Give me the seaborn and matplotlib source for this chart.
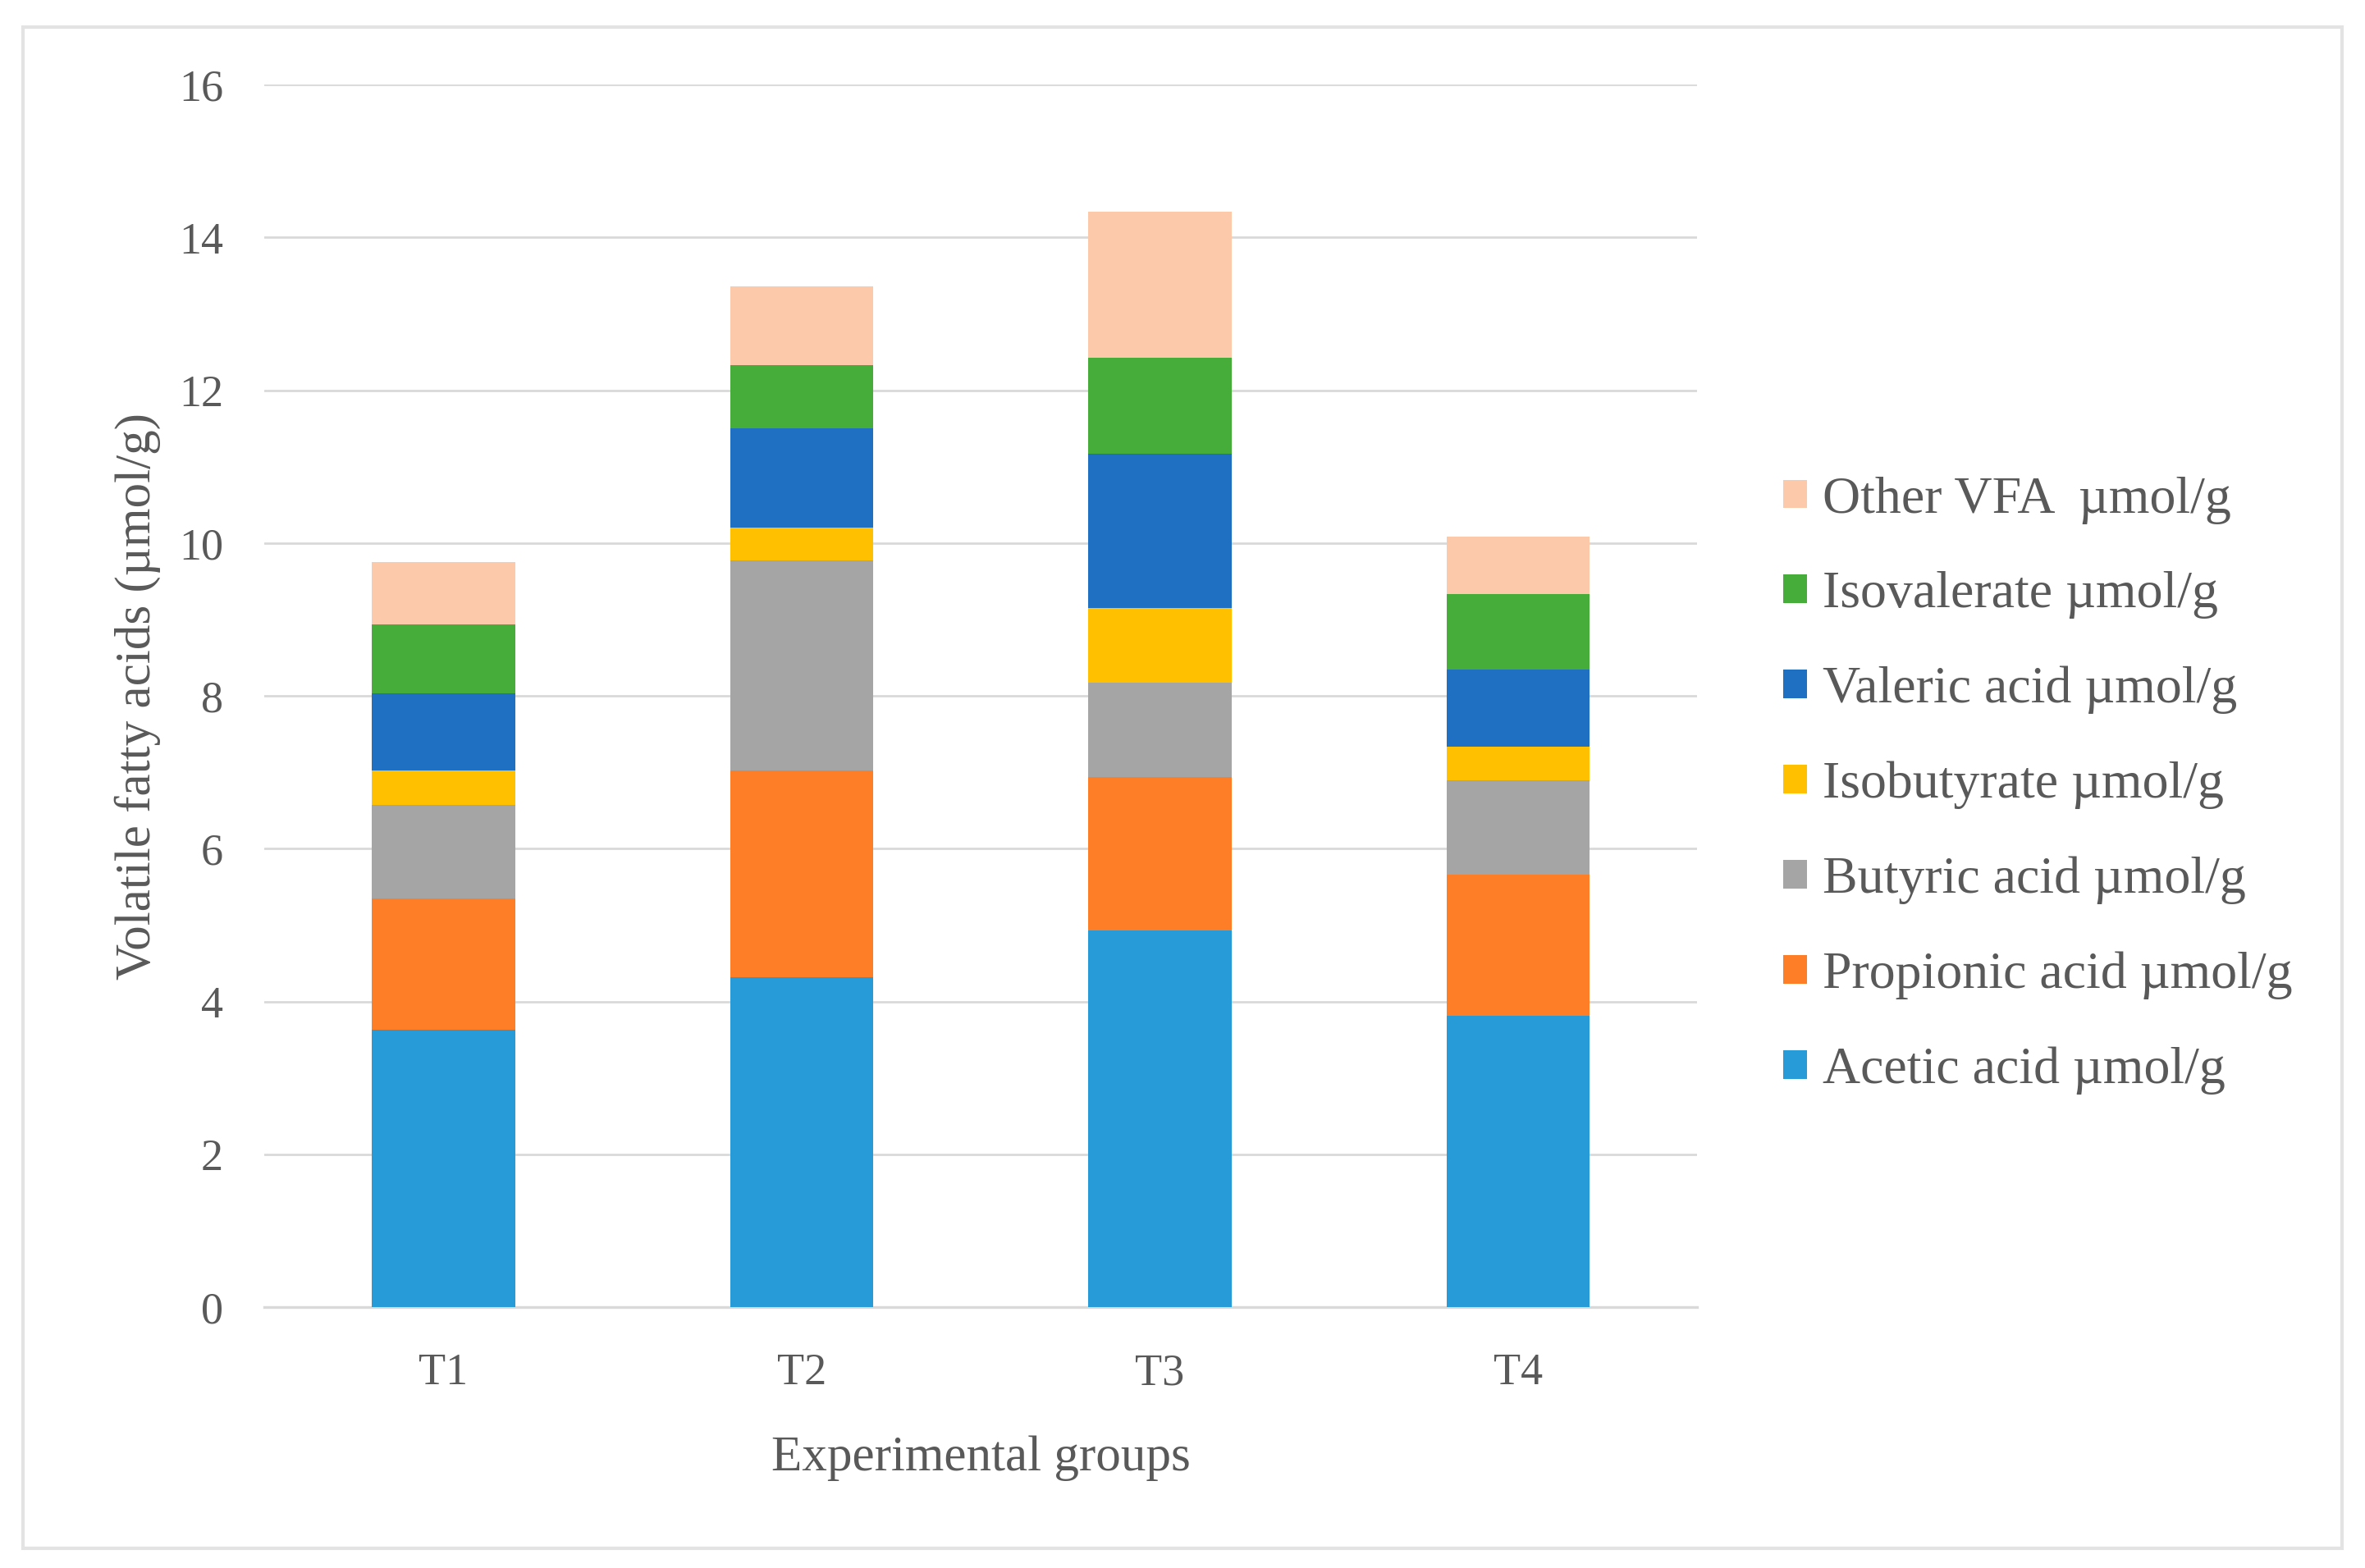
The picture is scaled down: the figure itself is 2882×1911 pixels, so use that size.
import pandas as pd
import matplotlib
matplotlib.use("Agg")
import matplotlib.pyplot as plt
from matplotlib.patches import Rectangle
import seaborn as sns

groups = ["T1", "T2", "T3", "T4"]

# component values per group (umol/g)
acetic = [3.63, 4.32, 4.93, 3.81]
propionic = [1.72, 2.70, 2.01, 1.85]
butyric = [1.22, 2.75, 1.23, 1.23]
isobutyrate = [0.45, 0.43, 0.98, 0.45]
valeric = [1.01, 1.30, 2.02, 1.00]
isovalerate = [0.91, 0.83, 1.26, 0.99]
other = [0.81, 1.03, 1.91, 0.75]

names = ["Acetic acid \u00b5mol/g", "Propionic acid \u00b5mol/g", "Butyric acid \u00b5mol/g",
         "Isobutyrate \u00b5mol/g", "Valeric acid \u00b5mol/g", "Isovalerate \u00b5mol/g",
         "Other VFA  \u00b5mol/g"]
colors = ["#269BD7", "#FD7E27", "#A5A5A5", "#FFC000", "#1F70C3", "#46AD3A", "#FCC9AA"]

text_col = "#595959"

sns.set_style("white")
plt.rcParams["font.family"] = ["Liberation Serif", "DejaVu Serif"]

df = pd.DataFrame({"group": groups})
for name, vals in zip(names, [acetic, propionic, butyric, isobutyrate, valeric, isovalerate, other]):
    df[name] = vals
cum = df[names].cumsum(axis=1)
cum["group"] = groups

fig = plt.figure(figsize=(14.41, 9.555), dpi=200)
ax = fig.add_axes([0.1117, 0.1664, 0.606, 0.7796])

# draw the totals from the top segment down so each layer covers the one above
for name, col in zip(names[::-1], colors[::-1]):
    sns.barplot(data=cum, x="group", y=name, color=col, saturation=1, width=0.4,
                label=name, ax=ax, zorder=3, edgecolor="none", linewidth=0)

ax.set_ylim(0, 16)
ax.set_xlim(-0.5, 3.5)
ax.set_yticks(range(0, 17, 2))
ax.yaxis.grid(True, color="#D9D9D9", linewidth=1.0, zorder=0)
ax.set_axisbelow(True)
for s in ["top", "right", "left"]:
    ax.spines[s].set_visible(False)
ax.spines["bottom"].set_color("#D9D9D9")
ax.spines["bottom"].set_linewidth(1.2)
ax.tick_params(axis="both", length=0, labelsize=19.5, colors=text_col)
ax.tick_params(axis="x", pad=20)
ax.tick_params(axis="y", pad=18)

ax.set_xlabel("Experimental groups", fontsize=22, color=text_col, labelpad=18)
ax.set_ylabel("Volatile fatty acids (\u00b5mol/g)", fontsize=22, color=text_col, labelpad=8)

handles, labels = ax.get_legend_handles_labels()
leg = ax.legend(handles, labels, loc="center left", bbox_to_anchor=(0.734, 0.499),
                bbox_transform=fig.transFigure, frameon=False, fontsize=23,
                handlelength=0.46, handleheight=0.46, handletextpad=0.3,
                labelspacing=0.9, labelcolor=text_col)

fig.patches.append(Rectangle((0.0097, 0.0126), 0.9806, 0.9701, transform=fig.transFigure,
                             fill=False, edgecolor="#E3E3E3", linewidth=1.5))

fig.savefig("out.png", dpi=200)
